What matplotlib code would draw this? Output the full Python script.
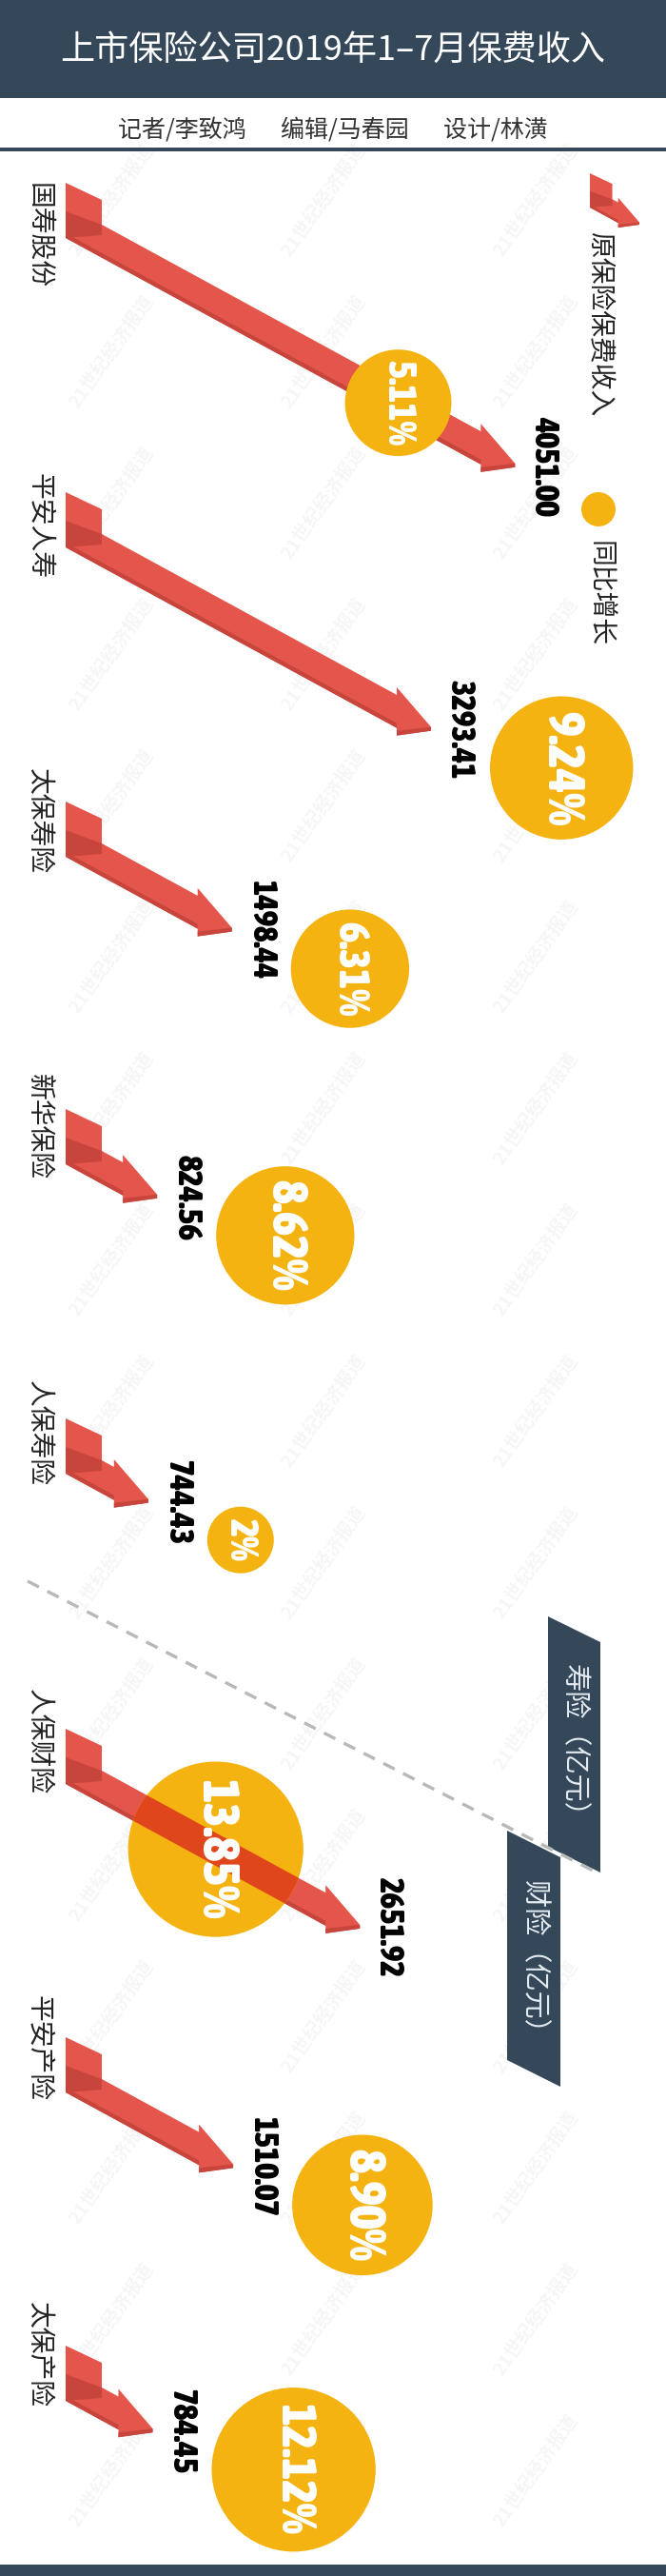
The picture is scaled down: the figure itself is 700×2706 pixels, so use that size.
import os
import matplotlib
matplotlib.use('Agg')
import matplotlib.pyplot as plt
from matplotlib.patches import Polygon, Circle, Rectangle
from matplotlib import font_manager
from matplotlib.font_manager import FontProperties

# data (亿元 / 同比增长 %)
companies = ['国寿股份', '平安人寿', '太保寿险', '新华保险', '人保寿险', '人保财险', '平安产险', '太保产险']
premium = [4051.00, 3293.41, 1498.44, 824.56, 744.43, 2651.92, 1510.07, 784.45]
growth = [5.11, 9.24, 6.31, 8.62, 2, 13.85, 8.90, 12.12]
growth_labels = ['5.11%', '9.24%', '6.31%', '8.62%', '2%', '13.85%', '8.90%', '12.12%']

# layout (pixels, y grows downwards)
W, H = 700, 2706
row_top = [192, 517, 842, 1165, 1490, 1816, 2140, 2464]
label_top = [192, 497, 807, 1128, 1450, 1774, 2096, 2418]
bubble_on_arrow = [0.74, None, None, None, None, 0.51, None, None]
bubble_blend = [False, False, False, False, False, True, False, False]
x0 = 69
px_per_yi = 0.1166

DARK = '#34485a'
RED = '#e4564b'
RED_DARK = '#c8453d'
GOLD = '#f5b312'

CJK = 'Noto Sans CJK SC'
plt.rcParams['font.family'] = [CJK, 'DejaVu Sans']


def pick_num_font():
    # heavy condensed face for the numbers, like the original's Impact-style digits
    best, best_score = None, -1
    for f in font_manager.fontManager.ttflist:
        base = os.path.basename(f.fname).lower()
        if 'italic' in base or 'oblique' in base:
            continue
        if not ('condensed' in base or 'narrow' in base):
            continue
        score = 0
        if 'black' in base:
            score += 30
        elif 'extrabold' in base:
            score += 25
        elif 'semibold' in base:
            score += 10
        elif 'bold' in base:
            score += 20
        else:
            continue
        if 'semicondensed' in base:
            score += 3
        elif 'extracondensed' in base or 'ultracondensed' in base:
            score += 1
        else:
            score += 5
        if score > best_score:
            best, best_score = f.fname, score
    return best


NUM_PATH = pick_num_font()


def num_fp(size):
    if NUM_PATH:
        return FontProperties(fname=NUM_PATH, size=size)
    return FontProperties(family='DejaVu Sans', weight='bold', size=size)


def arrow_shapes(x, yt, length, k=1.0, slope=0.545):
    tw, a, b, c = 38 * k, 18 * k, 44 * k, 58 * k
    hl, bar = 36 * k, 8 * k
    tip = x + length
    hb = tip - hl
    top = lambda v: yt + b + slope * (v - x - tw)
    bot = lambda v: yt + c + slope * (v - x)
    face = [(x, yt), (x + tw, yt + a), (x + tw, yt + b), (hb, top(hb)), (hb, top(hb) - bar),
            (tip, bot(hb) - k), (tip, bot(hb) + 3 * k), (hb, bot(hb) + bar), (hb, bot(hb)), (x, yt + c)]
    shades = [
        [(x, yt + 30 * k), (x + tw, yt + b), (x + tw, yt + 55 * k), (x, yt + c)],
        [(x, yt + c - 5 * k), (hb, bot(hb) - 5 * k), (hb, bot(hb)), (x, yt + c)],
        [(hb, bot(hb) + bar - 5 * k), (tip, bot(hb) - k), (tip, bot(hb) + 3 * k), (hb, bot(hb) + bar)],
    ]
    center = lambda v: (top(v) + bot(v)) / 2
    return face, shades, (tip, bot(hb)), center


def draw_arrow(ax, face, shades, z=2):
    ax.add_patch(Polygon(face, closed=True, fc=RED, ec='none', zorder=z))
    for s in shades:
        ax.add_patch(Polygon(s, closed=True, fc=RED_DARK, ec='none', zorder=z + 0.1))


fig = plt.figure(figsize=(W / 100, H / 100), dpi=100)
ax = fig.add_axes([0, 0, 1, 1])
ax.set_xlim(0, W)
ax.set_ylim(H, 0)
ax.axis('off')
renderer = fig.canvas.get_renderer()


def fit_length(t, max_len):
    # rotated -90, so the text length is the box height on screen
    length = t.get_window_extent(renderer).height
    if length > max_len:
        t.set_fontsize(t.get_fontsize() * max_len / length)


# watermark
for wy in range(210, 2700, 159):
    for wx in (117, 340, 563):
        ax.text(wx, wy, '21世纪经济报道', rotation=55, ha='center', va='center',
                fontsize=14, fontweight='bold', color='#000000', alpha=0.04, zorder=0)

# header
ax.add_patch(Rectangle((0, 0), W, 103, fc=DARK, ec='none', zorder=10))
ax.text(W / 2, 53, '上市保险公司2019年1–7月保费收入', ha='center', va='center',
        fontsize=26, color='white', zorder=11)
ax.text(W / 2, 137, '记者/李致鸿　  编辑/马春园　  设计/林潢', ha='center', va='center',
        fontsize=18, color='#333333', zorder=11)
ax.add_patch(Rectangle((0, 155), W, 4, fc=DARK, ec='none', zorder=10))
ax.add_patch(Rectangle((0, 2694), W, 12, fc=DARK, ec='none', zorder=10))

# rows
for i, name in enumerate(companies):
    yt = row_top[i]
    L = premium[i] * px_per_yi
    face, shades, (tx, ty), center = arrow_shapes(x0, yt, L)
    draw_arrow(ax, face, shades)

    ax.text(41, label_top[i], name, rotation=-90, ha='center', va='top',
            fontsize=20, color='#222222', zorder=5)
    vtxt = f'{premium[i]:.2f}'
    t = ax.text(tx + 31, ty + 2, vtxt, rotation=-90, ha='center', va='center',
                fontproperties=num_fp(27), color='black', zorder=6)
    fit_length(t, 15 * len(vtxt))

    d = 49.5 * growth[i] ** 0.5
    r = d / 2
    if bubble_on_arrow[i] is not None:
        cx = x0 + bubble_on_arrow[i] * L
        cy = center(cx)
    else:
        cx = tx + 62 + r
        cy = ty + 42
    circ = Circle((cx, cy), r, fc=GOLD, ec='none', zorder=3)
    ax.add_patch(circ)
    if bubble_blend[i]:
        over = Polygon(face, closed=True, fc='#e0461c', ec='none', zorder=4)
        ax.add_patch(over)
        over.set_clip_path(circ)
    em_px = 0.2 * d + 27
    t = ax.text(cx, cy, growth_labels[i], rotation=-90, ha='center', va='center',
                fontproperties=num_fp(em_px / 1.389), color='white', zorder=6)
    fit_length(t, 0.8 * d)

# legend
face, shades, _, _ = arrow_shapes(620, 182, 52, k=0.62)
draw_arrow(ax, face, shades)
ax.text(630, 243, '原保险保费收入', rotation=-90, ha='center', va='top',
        fontsize=20, color='#222222', zorder=5)
ax.add_patch(Circle((629, 535), 18, fc=GOLD, ec='none', zorder=3))
ax.text(630, 568, '同比增长', rotation=-90, ha='center', va='top',
        fontsize=20, color='#222222', zorder=5)

# category tags
ax.add_patch(Polygon([(576, 1698), (631, 1725), (631, 1967), (576, 1940)], closed=True,
                     fc=DARK, ec='none', zorder=7))
ax.text(603, 1835, '寿险（亿元）', rotation=-90, ha='center', va='center',
        fontsize=21, color='#e6edf2', zorder=8)
ax.add_patch(Polygon([(533, 1923), (589, 1951), (589, 2192), (533, 2164)], closed=True,
                     fc=DARK, ec='none', zorder=7))
ax.text(561, 2062, '财险（亿元）', rotation=-90, ha='center', va='center',
        fontsize=21, color='#e6edf2', zorder=8)
ax.plot([29, 631], [1661, 1969], color='#b8b8b8', lw=2.4, ls=(0, (4, 3)), zorder=9)

fig.savefig('out.png', dpi=100, facecolor='white')
